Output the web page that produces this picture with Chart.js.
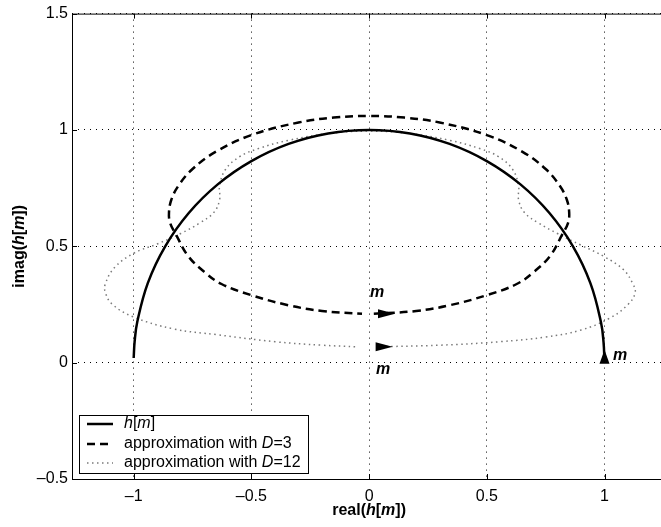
<!DOCTYPE html>
<html><head><meta charset="utf-8">
<script src="https://cdn.jsdelivr.net/npm/chart.js@4/dist/chart.umd.min.js"></script>
<style>html,body{margin:0;padding:0;background:#fff;overflow:hidden}#wrap{width:661px;height:527px}</style>
</head><body><div id="wrap"><canvas id="c" width="661" height="527"></canvas></div>
<script>
// ---- data ----
const hReal = [1.00, 0.996, 0.985, 0.94, 0.866, 0.766, 0.643, 0.50, 0.342, 0.174, 0.00, -0.174, -0.342, -0.50, -0.643, -0.766, -0.866, -0.94, -0.985, -0.996, -1.00];
const hImag = [0.00, 0.087, 0.174, 0.342, 0.50, 0.643, 0.766, 0.866, 0.94, 0.985, 1.00, 0.985, 0.94, 0.866, 0.766, 0.643, 0.50, 0.342, 0.174, 0.09, 0.02];

const d3Real = [0.02, 0.20, 0.344, 0.50, 0.627, 0.70, 0.77, 0.82, 0.845, 0.85, 0.84, 0.81, 0.75, 0.65, 0.50, 0.30, 0.15, 0.00, -0.15, -0.30, -0.50, -0.65, -0.75, -0.81, -0.84, -0.85, -0.845, -0.82, -0.77, -0.70, -0.627, -0.50, -0.344, -0.20, -0.03];
const d3Imag = [0.21, 0.222, 0.247, 0.29, 0.338, 0.39, 0.46, 0.55, 0.60, 0.645, 0.70, 0.76, 0.832, 0.907, 0.978, 1.032, 1.053, 1.06, 1.053, 1.032, 0.978, 0.907, 0.832, 0.76, 0.70, 0.645, 0.60, 0.55, 0.46, 0.39, 0.338, 0.29, 0.247, 0.222, 0.21];

const d12Real = [0.03, 0.30, 0.556, 0.75, 0.90, 1.02, 1.10, 1.13, 1.12, 1.08, 1.00, 0.90, 0.80, 0.72, 0.66, 0.635, 0.635, 0.61, 0.55, 0.47, 0.344, 0.17, 0.00, -0.17, -0.344, -0.47, -0.55, -0.61, -0.635, -0.635, -0.66, -0.72, -0.80, -0.90, -1.00, -1.08, -1.12, -1.12, -1.09, -1.00, -0.83, -0.645, -0.40, -0.20, -0.05];
const d12Imag = [0.068, 0.075, 0.09, 0.11, 0.14, 0.19, 0.25, 0.30, 0.34, 0.40, 0.455, 0.505, 0.555, 0.60, 0.645, 0.70, 0.76, 0.83, 0.885, 0.92, 0.955, 0.985, 0.995, 0.985, 0.955, 0.92, 0.885, 0.83, 0.76, 0.70, 0.645, 0.60, 0.555, 0.51, 0.47, 0.41, 0.34, 0.30, 0.25, 0.196, 0.145, 0.12, 0.09, 0.075, 0.068];

const xTickValues = [-1, -0.5, 0, 0.5, 1];
const xTickLabels = ['\u20131', '\u20130.5', '0', '0.5', '1'];
const yTickValues = [-0.5, 0, 0.5, 1, 1.5];
const yTickLabels = ['\u20130.5', '0', '0.5', '1', '1.5'];

// arrows (tip positions) and "m" labels
const arrowTipX = [1.00, 0.11, 0.10];
const arrowTipY = [0.055, 0.21, 0.068];
const arrowDir  = ['up', 'right', 'right'];
const mLabelX = [1.066, 0.034, 0.06];
const mLabelY = [0.03, 0.30, -0.03];

const FAM = '"Liberation Sans", Arial, Helvetica, sans-serif';
const fN = '16px ' + FAM, fI = 'italic 16px ' + FAM, fB = 'bold 16px ' + FAM, fBI = 'italic bold 16px ' + FAM;

function pts(xs, ys){ return xs.map((x,i)=>({x:x, y:ys[i]})); }

function richWidth(ctx, segs){ let w=0; segs.forEach(s=>{ctx.font=s.f; w+=ctx.measureText(s.t).width;}); return w; }
function drawRich(ctx, segs, x, y, center){
  let cx = center ? x - richWidth(ctx, segs)/2 : x;
  segs.forEach(s=>{ ctx.font=s.f; ctx.fillText(s.t, cx, y); cx += ctx.measureText(s.t).width; });
}

const STY = {
  solid: {color:'#000', width:2.5, dash:[]},
  dash: {color:'#000', width:2.5, dash:[8,5]},
  dot: {color:'#7a7a7a', width:1.5, dash:[1.5,3.5]}
};

const legendItems = [
  {segs:[{t:'h',f:fI},{t:'[',f:fN},{t:'m',f:fI},{t:']',f:fN}], s:STY.solid},
  {segs:[{t:'approximation with ',f:fN},{t:'D',f:fI},{t:'=3',f:fN}], s:STY.dash},
  {segs:[{t:'approximation with ',f:fN},{t:'D',f:fI},{t:'=12',f:fN}], s:STY.dot}
];

const deco = {
  id:'deco',
  afterDatasetsDraw(chart){
    const ctx = chart.ctx, xs = chart.scales.x, ys = chart.scales.y;
    ctx.save();
    ctx.fillStyle = '#000';
    arrowTipX.forEach((ax,i)=>{
      const px = xs.getPixelForValue(ax), py = ys.getPixelForValue(arrowTipY[i]);
      ctx.beginPath();
      if(arrowDir[i]==='up'){
        ctx.moveTo(px, py); ctx.lineTo(px-5, py+14); ctx.lineTo(px+5, py+14);
      } else {
        ctx.moveTo(px, py); ctx.lineTo(px-17, py-4.5); ctx.lineTo(px-17, py+4.5);
      }
      ctx.closePath(); ctx.fill();
    });
    ctx.font = fBI; ctx.textAlign='center'; ctx.textBaseline='middle';
    mLabelX.forEach((mx,i)=>{
      ctx.fillText('m', xs.getPixelForValue(mx), ys.getPixelForValue(mLabelY[i]));
    });
    ctx.restore();
  },
  afterDraw(chart){
    const ctx = chart.ctx, a = chart.chartArea, xs = chart.scales.x, ys = chart.scales.y;
    ctx.save();
    ctx.strokeStyle='#000'; ctx.lineWidth=1; ctx.setLineDash([]);
    // box
    ctx.beginPath();
    ctx.moveTo(a.left+0.5, a.top+0.5); ctx.lineTo(a.right+5, a.top+0.5);
    ctx.moveTo(a.left+0.5, a.top); ctx.lineTo(a.left+0.5, a.bottom+0.5);
    ctx.moveTo(a.left, a.bottom+0.5); ctx.lineTo(a.right+5, a.bottom+0.5);
    // inner ticks
    xTickValues.forEach(v=>{
      const p = Math.round(xs.getPixelForValue(v))+0.5;
      ctx.moveTo(p, a.bottom); ctx.lineTo(p, a.bottom-5);
      ctx.moveTo(p, a.top); ctx.lineTo(p, a.top+5);
    });
    yTickValues.forEach(v=>{
      const p = Math.round(ys.getPixelForValue(v))+0.5;
      ctx.moveTo(a.left, p); ctx.lineTo(a.left+5, p);
    });
    ctx.stroke();
    // axis titles
    ctx.fillStyle='#000'; ctx.textBaseline='middle'; ctx.textAlign='left';
    const xt = [{t:'real(',f:fB},{t:'h',f:fBI},{t:'[',f:fB},{t:'m',f:fBI},{t:'])',f:fB}];
    drawRich(ctx, xt, xs.getPixelForValue(0), 511, true);
    const yt = [{t:'imag(',f:fB},{t:'h',f:fBI},{t:'[',f:fB},{t:'m',f:fBI},{t:'])',f:fB}];
    ctx.save(); ctx.translate(20, ys.getPixelForValue(0.5)); ctx.rotate(-Math.PI/2);
    drawRich(ctx, yt, 0, 0, true); ctx.restore();
    // legend
    const L=79, T=415, R=308, B=473;
    ctx.fillStyle='#fff'; ctx.fillRect(L, T, R-L, B-T);
    ctx.strokeStyle='#000'; ctx.lineWidth=1;
    ctx.strokeRect(L+0.5, T+0.5, R-L, B-T);
    const rows=[424, 444, 463];
    legendItems.forEach((it,i)=>{
      ctx.beginPath(); ctx.strokeStyle=it.s.color; ctx.lineWidth=it.s.width; ctx.setLineDash(it.s.dash);
      ctx.moveTo(87, rows[i]); ctx.lineTo(113, rows[i]); ctx.stroke();
      ctx.setLineDash([]);
      ctx.fillStyle='#000';
      drawRich(ctx, it.segs, 124, rows[i], false);
    });
    ctx.restore();
  }
};

function ds(label, xs, ys, s){
  return {label, data:pts(xs,ys), showLine:true, tension:0.4, pointRadius:0, pointHoverRadius:0,
    borderColor:s.color, borderWidth:s.width, borderDash:s.dash, fill:false};
}

new Chart(document.getElementById('c'), {
  type:'scatter',
  data:{datasets:[
    ds('h[m]', hReal, hImag, STY.solid),
    ds('approximation with D=3', d3Real, d3Imag, STY.dash),
    ds('approximation with D=12', d12Real, d12Imag, STY.dot)
  ]},
  options:{
    responsive:false, animation:false, devicePixelRatio:1,
    layout:{padding:{top:10, right:0, left:0, bottom:0}},
    plugins:{legend:{display:false}, tooltip:{enabled:false}},
    scales:{
      x:{type:'linear', min:-1.262, max:1.24,
        afterBuildTicks(s){ s.ticks = xTickValues.map(v=>({value:v})); },
        afterFit(s){ s.height = 48; },
        ticks:{autoSkip:false, maxRotation:0, font:{family:FAM, size:16}, color:'#000', padding:8,
          callback:(v)=>{ const i=xTickValues.indexOf(v); return i>=0?xTickLabels[i]:''; }},
        grid:{color:'#000', lineWidth:1, drawTicks:false},
        border:{display:false, dash:[1,5]}
      },
      y:{type:'linear', min:-0.5, max:1.5,
        afterBuildTicks(s){ s.ticks = yTickValues.map(v=>({value:v})); },
        afterFit(s){ s.width = 72; },
        ticks:{autoSkip:false, font:{family:FAM, size:16}, color:'#000', padding:4,
          callback:(v)=>{ const i=yTickValues.indexOf(v); return i>=0?yTickLabels[i]:''; }},
        grid:{color:'#000', lineWidth:1, drawTicks:false},
        border:{display:false, dash:[1,5]}
      }
    }
  },
  plugins:[deco]
});
</script>
</body></html>
